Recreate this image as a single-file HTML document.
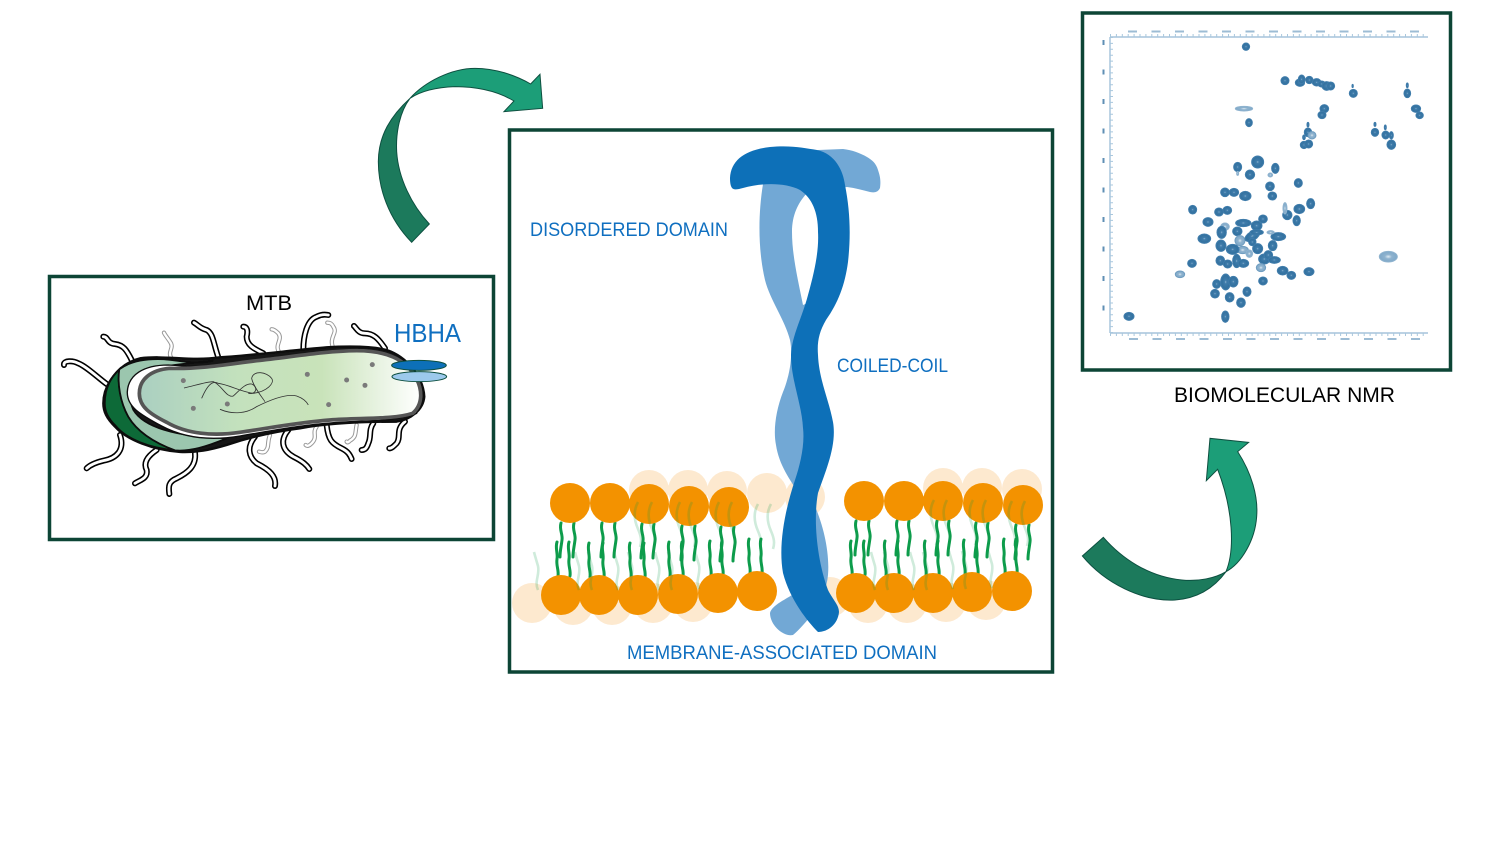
<!DOCTYPE html>
<html><head><meta charset="utf-8"><style>html,body{margin:0;padding:0;background:#fff}svg{display:block}text{font-family:"Liberation Sans",sans-serif}</style></head><body>
<svg width="1500" height="844" viewBox="0 0 1500 844" xmlns="http://www.w3.org/2000/svg">
<defs>
<filter id="soft" filterUnits="userSpaceOnUse" x="0" y="0" width="1500" height="844"><feGaussianBlur stdDeviation=".3"/></filter>
<linearGradient id="cell" x1="0" x2="1" y1="0" y2="0"><stop offset="0" stop-color="#aacfc0"/><stop offset=".35" stop-color="#c3e1bd"/><stop offset=".65" stop-color="#c9e3ba"/><stop offset="1" stop-color="#ffffff"/></linearGradient>
<radialGradient id="pk"><stop offset="0" stop-color="#8fb4d0"/><stop offset=".22" stop-color="#3f7cab"/><stop offset=".8" stop-color="#33719f"/><stop offset="1" stop-color="#3f7cab"/></radialGradient>
<radialGradient id="pl"><stop offset="0" stop-color="#dfeaf2"/><stop offset=".4" stop-color="#8fb3cf"/><stop offset="1" stop-color="#7ea8c8"/></radialGradient>
<path id="a" d="M0,0c-2,7 2,11 1,17c-1,8 -2,11 -2,17" fill="none" stroke="#0f9c4c" stroke-width="3" stroke-linecap="round"/>
<path id="b" d="M0,0c-2,6 1,11 0,17c-1,7 2,11 1,17" fill="none" stroke="#0f9c4c" stroke-width="3" stroke-linecap="round"/>
<path id="c" d="M0,0c-5,9 -4,18 0,27c3,7 4,12 2,18" fill="none" stroke="#0f9c4c" stroke-width="2.6" opacity=".2"/>
<path id="d" d="M0,0c-4,-9 2,-15 0,-24c-2,-7 -3,-10 -4,-14" fill="none" stroke="#0f9c4c" stroke-width="2.6" opacity=".2"/>
</defs>
<rect width="1500" height="844" fill="#fff"/>
<g filter="url(#soft)">

<!-- frames -->
<rect x="49.500" y="276.500" width="444" height="263" fill="#fff" stroke="#0d4536" stroke-width="3.500"/>
<rect x="509.500" y="130" width="543" height="542" fill="#fff" stroke="#0d4536" stroke-width="3.500"/>
<rect x="1082.500" y="13" width="368" height="357" fill="#fff" stroke="#0d4536" stroke-width="3.500"/>

<!-- arrows -->
<g transform="translate(365,55) scale(.3333)" stroke="#0f5040" stroke-width="3" stroke-linejoin="miter">
<path d="M140,562C70,490 40,400 40,320C40,240 80,180 135,130C105,170 92,230 95,290C100,370 140,450 193,507Z" fill="#1a7a5c"/>
<path d="M135,130C180,80 260,40 330,40C390,40 450,60 497,87L525,58L533,160L417,170L447,138C400,110 340,95 270,95C210,97 165,110 135,130Z" fill="#1f9e78"/>
</g>
<g transform="translate(1075,430) scale(.3333)" stroke="#0f5040" stroke-width="3">
<path d="M22,378L85,322C140,385 220,440 320,450C370,455 420,445 453,425C420,470 370,505 300,510C200,515 90,460 22,378Z" fill="#1a7a5c"/>
<path d="M453,425C480,360 475,240 428,118L394,152L405,25L521,37L488,65C530,130 550,200 545,260C540,330 500,400 453,425Z" fill="#1f9e78"/>
</g>

<!-- bacterium -->
<g transform="translate(40,270) scale(.3333)">
<g fill="none" stroke="#999" stroke-width="13" stroke-linecap="round">
<path d="M395,265C380,245 405,235 390,215C380,200 375,195 372,188"/>
<path d="M720,250C700,225 730,210 715,190C705,180 700,178 695,178"/>
<path d="M880,235C865,200 895,190 880,170C875,160 870,158 862,158"/>
<path d="M690,495C680,520 690,530 675,545C665,550 660,545 657,545"/>
<path d="M830,470C815,490 835,500 815,520C805,530 800,528 797,525"/>
<path d="M950,465C945,490 950,500 930,512C925,518 922,518 920,515"/>
</g>
<g fill="none" stroke="#fff" stroke-width="7" stroke-linecap="round">
<path d="M395,265C380,245 405,235 390,215C380,200 375,195 372,188"/>
<path d="M720,250C700,225 730,210 715,190C705,180 700,178 695,178"/>
<path d="M880,235C865,200 895,190 880,170C875,160 870,158 862,158"/>
<path d="M690,495C680,520 690,530 675,545C665,550 660,545 657,545"/>
<path d="M830,470C815,490 835,500 815,520C805,530 800,528 797,525"/>
<path d="M950,465C945,490 950,500 930,512C925,518 922,518 920,515"/>
</g>
<g fill="none" stroke="#000" stroke-width="18" stroke-linecap="round">
<path d="M200,342C170,320 140,290 115,280C100,272 70,270 72,285"/>
<path d="M275,270C260,240 250,225 225,222C200,220 205,200 190,200"/>
<path d="M535,262C520,220 520,190 500,180C480,175 475,165 462,158"/>
<path d="M670,250C640,235 620,225 620,200C625,180 620,170 610,170"/>
<path d="M790,240C790,200 800,150 830,140C850,130 860,135 865,135"/>
<path d="M1035,235C1015,205 1000,190 975,190C955,190 950,175 942,168"/>
<path d="M240,495C255,540 230,565 190,572C165,578 150,585 140,595"/>
<path d="M350,540C320,560 310,580 320,600C325,625 300,630 285,640"/>
<path d="M465,548C470,590 440,610 410,625C385,635 385,650 388,672"/>
<path d="M645,500C620,530 625,560 650,580C690,600 710,620 705,648"/>
<path d="M745,480C720,510 725,540 760,560C790,575 800,585 808,597"/>
<path d="M860,465C865,510 875,520 905,535C925,545 930,555 935,567"/>
<path d="M1000,460C985,480 995,500 985,520C980,535 975,540 965,540"/>
<path d="M1095,455C1065,480 1085,500 1070,520C1060,530 1055,535 1048,535"/>
</g>
<g fill="none" stroke="#fff" stroke-width="8.500" stroke-linecap="round">
<path d="M200,342C170,320 140,290 115,280C100,272 70,270 72,285"/>
<path d="M275,270C260,240 250,225 225,222C200,220 205,200 190,200"/>
<path d="M535,262C520,220 520,190 500,180C480,175 475,165 462,158"/>
<path d="M670,250C640,235 620,225 620,200C625,180 620,170 610,170"/>
<path d="M790,240C790,200 800,150 830,140C850,130 860,135 865,135"/>
<path d="M1035,235C1015,205 1000,190 975,190C955,190 950,175 942,168"/>
<path d="M240,495C255,540 230,565 190,572C165,578 150,585 140,595"/>
<path d="M350,540C320,560 310,580 320,600C325,625 300,630 285,640"/>
<path d="M465,548C470,590 440,610 410,625C385,635 385,650 388,672"/>
<path d="M645,500C620,530 625,560 650,580C690,600 710,620 705,648"/>
<path d="M745,480C720,510 725,540 760,560C790,575 800,585 808,597"/>
<path d="M860,465C865,510 875,520 905,535C925,545 930,555 935,567"/>
<path d="M1000,460C985,480 995,500 985,520C980,535 975,540 965,540"/>
<path d="M1095,455C1065,480 1085,500 1070,520C1060,530 1055,535 1048,535"/>
</g>
<path d="M190,400C190,340 240,280 300,265C380,255 450,275 540,262C650,255 760,240 860,232C930,228 1000,230 1040,240C1100,260 1150,320 1153,380C1150,420 1110,450 1070,455C960,455 860,460 780,475C700,485 620,505 560,525C510,540 470,548 420,546C340,540 260,510 225,470C200,445 190,425 190,400Z" fill="#141414" stroke="#0a0a0a" stroke-width="7"/>
<path d="M194,400C194,350 215,320 238,298C232,340 240,395 265,440C290,482 335,515 405,541C330,535 260,508 227,468C204,445 194,425 194,400Z" fill="#0e6a37" stroke="#0a0a0a" stroke-width="6"/>
<path d="M238,298C265,278 310,265 372,268C420,272 470,285 520,272C400,285 330,290 300,310C270,335 262,380 280,420C310,470 400,500 560,505C500,530 450,545 405,541C335,515 290,482 265,440C240,395 232,340 238,298Z" fill="#9bc6ae" stroke="#0a0a0a" stroke-width="5"/>
<path d="M262,365C265,315 310,285 385,285C440,288 470,292 520,286L1000,246L1135,320L1130,430C1060,458 960,450 870,459C780,466 700,481 600,498C510,513 430,503 365,468C300,433 260,410 262,365Z" fill="#fff" stroke="#0a0a0a" stroke-width="4"/>
<path d="M298,370C298,330 330,300 390,295C480,298 560,283 650,272C750,262 850,243 950,242C1040,242 1095,268 1125,318C1150,360 1148,405 1118,430C1060,449 960,443 870,450C780,457 700,472 600,487C520,499 440,492 380,457C330,432 298,410 298,370Z" fill="url(#cell)" stroke="#555" stroke-width="11"/>
<g fill="none" stroke="#333" stroke-width="2.500">
<path d="M432,354C470,345 500,335 520,335C545,345 560,385 580,378C600,360 615,340 635,342C655,350 650,375 625,370"/>
<path d="M485,385C500,350 515,330 535,340C570,345 600,365 640,370C680,365 705,340 695,325C680,305 640,300 635,325C640,350 665,380 675,395"/>
<path d="M540,418C580,435 620,430 650,410C690,390 740,370 770,378C790,385 800,395 805,405"/>
</g>
<g fill="#7a7a7a"><circle cx="430" cy="332" r="7.500"/><circle cx="460" cy="415" r="7.500"/><circle cx="562" cy="402" r="7.500"/><circle cx="802" cy="313" r="7.500"/><circle cx="866" cy="404" r="7.500"/><circle cx="920" cy="330" r="7.500"/><circle cx="975" cy="346" r="7.500"/><circle cx="997" cy="284" r="7.500"/></g>
<ellipse cx="1137" cy="286" rx="82" ry="15" fill="#0f6fb8" stroke="#0d4f40" stroke-width="3"/>
<ellipse cx="1138" cy="320" rx="82" ry="15" fill="#9cc9ec" stroke="#0d4f40" stroke-width="3"/>
</g>

<!-- membrane back layer -->
<g fill="#fde9cf">
<circle cx="649" cy="490" r="20"/><circle cx="688" cy="490" r="20"/><circle cx="727" cy="491" r="20"/><circle cx="767" cy="493" r="20"/><circle cx="805" cy="497" r="20"/>
<circle cx="943" cy="488" r="20"/><circle cx="982" cy="488" r="20"/><circle cx="1022" cy="489" r="20"/>
<circle cx="532" cy="603" r="20"/><circle cx="573" cy="605" r="20"/><circle cx="612" cy="605" r="20"/><circle cx="653" cy="603" r="20"/><circle cx="693" cy="602" r="20"/>
<circle cx="830" cy="597" r="20"/><circle cx="868" cy="603" r="20"/><circle cx="907" cy="603" r="20"/><circle cx="946" cy="602" r="20"/><circle cx="986" cy="600" r="20"/>
</g>
<!-- tails -->
<use href="#a" x="561" y="523"/><use href="#a" x="574" y="523"/><use href="#a" x="602" y="523"/><use href="#a" x="615" y="523"/><use href="#a" x="642" y="524"/><use href="#a" x="654" y="524"/><use href="#a" x="682" y="526"/><use href="#a" x="695" y="526"/><use href="#a" x="721" y="527"/><use href="#a" x="734" y="527"/>
<use href="#a" x="856" y="521"/><use href="#a" x="869" y="521"/><use href="#a" x="897" y="521"/><use href="#a" x="909" y="521"/><use href="#a" x="937" y="521"/><use href="#a" x="949" y="521"/><use href="#a" x="976" y="523"/><use href="#a" x="988" y="523"/><use href="#a" x="1016" y="525"/><use href="#a" x="1029" y="525"/>
<use href="#b" x="557" y="542"/><use href="#b" x="569" y="542"/><use href="#b" x="589" y="543"/><use href="#b" x="603" y="543"/><use href="#b" x="630" y="543"/><use href="#b" x="644" y="543"/><use href="#b" x="669" y="542"/><use href="#b" x="682" y="542"/><use href="#b" x="710" y="541"/><use href="#b" x="722" y="541"/><use href="#b" x="749" y="539"/><use href="#b" x="761" y="539"/>
<use href="#b" x="851" y="541"/><use href="#b" x="864" y="541"/><use href="#b" x="885" y="541"/><use href="#b" x="898" y="541"/><use href="#b" x="925" y="541"/><use href="#b" x="938" y="541"/><use href="#b" x="964" y="540"/><use href="#b" x="977" y="540"/><use href="#b" x="1004" y="539"/><use href="#b" x="1016" y="539"/>
<!-- front heads -->
<g fill="#f39200">
<circle cx="570" cy="503" r="20"/><circle cx="610" cy="503" r="20"/><circle cx="649" cy="504" r="20"/><circle cx="689" cy="506" r="20"/><circle cx="729" cy="507" r="20"/>
<circle cx="864" cy="501" r="20"/><circle cx="904" cy="501" r="20"/><circle cx="943" cy="501" r="20"/><circle cx="983" cy="503" r="20"/><circle cx="1023" cy="505" r="20"/>
<circle cx="561" cy="595" r="20"/><circle cx="599" cy="595" r="20"/><circle cx="638" cy="595" r="20"/><circle cx="678" cy="594" r="20"/><circle cx="718" cy="593" r="20"/><circle cx="757" cy="591" r="20"/>
<circle cx="856" cy="593" r="20"/><circle cx="894" cy="593" r="20"/><circle cx="933" cy="593" r="20"/><circle cx="972" cy="592" r="20"/><circle cx="1012" cy="591" r="20"/>
</g>
<!-- faded tails -->
<use href="#c" x="638" y="502"/><use href="#c" x="652" y="502"/><use href="#c" x="680" y="502"/><use href="#c" x="692" y="502"/><use href="#c" x="719" y="502"/><use href="#c" x="732" y="502"/><use href="#c" x="758" y="504"/><use href="#c" x="771" y="504"/>
<use href="#c" x="934" y="500"/><use href="#c" x="947" y="500"/><use href="#c" x="973" y="500"/><use href="#c" x="986" y="500"/><use href="#c" x="1012" y="501"/><use href="#c" x="1025" y="501"/>
<use href="#d" x="538" y="590"/><use href="#d" x="579" y="590"/><use href="#d" x="592" y="590"/><use href="#d" x="618" y="590"/><use href="#d" x="632" y="590"/><use href="#d" x="659" y="590"/><use href="#d" x="672" y="590"/><use href="#d" x="699" y="589"/>
<use href="#d" x="875" y="590"/><use href="#d" x="888" y="590"/><use href="#d" x="914" y="590"/><use href="#d" x="927" y="590"/><use href="#d" x="953" y="589"/><use href="#d" x="966" y="589"/><use href="#d" x="992" y="588"/>

<!-- protein -->
<path d="M763,184C758,215 758,250 765,280C770,300 785,320 790,340C793,355 790,375 783,392C776,410 773,430 776,445C779,465 790,480 800,495L812,500C822,520 830,550 828,575C826,600 805,625 793,635C783,637 770,625 770,613C772,605 785,600 800,590L815,300L803,305C798,280 792,255 792,232C792,215 798,203 807,193L847,187C855,188 862,190 870,192C875,193 878,192 880,188C881,180 880,176 878,170C876,163 872,160 867,157C860,153 852,150 843,149L818,150L790,160Z" fill="#72a8d5"/>
<path d="M730,178C731,160 745,150 770,147C790,145 805,148 817,150C835,154 843,170 845,185C850,210 851,235 848,262C845,285 838,303 826,320C819,332 817,342 818,355C819,380 829,400 833,422C837,445 826,470 818,493C813,520 817,560 828,590C833,600 839,605 839,612C838,624 828,632 818,632C808,622 790,600 783,573C778,545 785,510 795,480C800,465 805,445 803,428C802,405 791,380 791,355C792,335 802,318 808,295C815,270 819,250 818,232C818,212 812,198 800,190C785,182 760,183 743,188C735,190 730,192 730,178Z" fill="#116fb8"/>

<!-- NMR axes -->
<g fill="none">
<path d="M1110,37H1428M1110,37V333M1110,333H1428" stroke="#93b8d4" stroke-width="1.200"/>
<path d="M1110,35.500H1428M1110,334.500H1428" stroke="#a9c7dd" stroke-width="3" stroke-dasharray="1 4.900"/>
<path d="M1111.500,37V333" stroke="#a9c7dd" stroke-width="3" stroke-dasharray="1 4.900"/>
<path d="M1128,31.500H1428" stroke="#9dbcd4" stroke-width="2" stroke-dasharray="9 14.500"/>
<path d="M1129,339H1428" stroke="#9dbcd4" stroke-width="2" stroke-dasharray="9 14.500"/>
<path d="M1103.500,40V320" stroke="#5f8fb4" stroke-width="2" stroke-dasharray="5 24.500"/>
</g>
<!-- NMR peaks -->
<g transform="translate(1080,10) scale(.3333)" fill="url(#pk)" stroke="#3f7cab" stroke-width="3">
<ellipse cx="498" cy="110" rx="11" ry="11"/><ellipse cx="615" cy="212" rx="12" ry="12"/><ellipse cx="660" cy="218" rx="14" ry="11"/><ellipse cx="665" cy="208" rx="10" ry="13"/><ellipse cx="688" cy="210" rx="11" ry="11"/><ellipse cx="710" cy="217" rx="13" ry="11"/><ellipse cx="725" cy="222" rx="11" ry="9"/><ellipse cx="740" cy="228" rx="14" ry="13"/><ellipse cx="752" cy="228" rx="12" ry="12"/><ellipse cx="820" cy="250" rx="12" ry="12"/><ellipse cx="982" cy="250" rx="10" ry="13"/><ellipse cx="982" cy="226" rx="3" ry="7"/><ellipse cx="818" cy="228" rx="2" ry="5"/><ellipse cx="1008" cy="296" rx="14" ry="11"/><ellipse cx="1019" cy="316" rx="11" ry="10"/><ellipse cx="733" cy="296" rx="13" ry="12"/><ellipse cx="726" cy="315" rx="12" ry="11"/><ellipse cx="507" cy="338" rx="10" ry="12"/>
<ellipse cx="492" cy="296" rx="26" ry="7" fill="url(#pl)" stroke="#8fb3cf"/><ellipse cx="684" cy="367" rx="11" ry="13"/><ellipse cx="696" cy="376" rx="12" ry="11" fill="url(#pl)" stroke="#6f9dc0"/><ellipse cx="672" cy="405" rx="11" ry="11"/><ellipse cx="686" cy="402" rx="12" ry="12"/><ellipse cx="885" cy="367" rx="11" ry="12"/><ellipse cx="917" cy="375" rx="11" ry="12"/><ellipse cx="934" cy="376" rx="6" ry="11"/><ellipse cx="934" cy="404" rx="13" ry="14"/><ellipse cx="473" cy="471" rx="12" ry="14"/><ellipse cx="533" cy="456" rx="18" ry="18"/><ellipse cx="510" cy="494" rx="14" ry="14"/><ellipse cx="586" cy="475" rx="11" ry="15"/><ellipse cx="571" cy="495" rx="7" ry="6" fill="url(#pl)" stroke="#8fb3cf"/><ellipse cx="570" cy="529" rx="13" ry="13"/><ellipse cx="655" cy="519" rx="12" ry="13"/><ellipse cx="684" cy="344" rx="3" ry="7"/><ellipse cx="885" cy="343" rx="3" ry="6"/><ellipse cx="916" cy="352" rx="3" ry="7"/><ellipse cx="672" cy="382" rx="4" ry="7"/><ellipse cx="473" cy="490" rx="3" ry="6" fill="url(#pl)" stroke="#8fb3cf"/>
</g>
<g transform="translate(1080,180) scale(.3333)" fill="url(#pk)" stroke="#3f7cab" stroke-width="3">
<ellipse cx="435" cy="37" rx="13" ry="13"/><ellipse cx="462" cy="37" rx="14" ry="12"/><ellipse cx="496" cy="48" rx="17" ry="14"/><ellipse cx="577" cy="48" rx="13" ry="12"/><ellipse cx="338" cy="89" rx="12" ry="13"/><ellipse cx="417" cy="96" rx="13" ry="12"/><ellipse cx="442" cy="91" rx="13" ry="12"/><ellipse cx="384" cy="126" rx="15" ry="13"/><ellipse cx="622" cy="105" rx="14" ry="14"/><ellipse cx="615" cy="85" rx="6" ry="17" fill="url(#pl)" stroke="#8fb3cf"/><ellipse cx="658" cy="87" rx="16" ry="14"/><ellipse cx="692" cy="71" rx="12" ry="15"/><ellipse cx="650" cy="122" rx="11" ry="15"/><ellipse cx="549" cy="117" rx="13" ry="12"/><ellipse cx="435" cy="140" rx="13" ry="11" fill="url(#pl)" stroke="#8fb3cf"/><ellipse cx="425" cy="157" rx="14" ry="18"/><ellipse cx="472" cy="154" rx="14" ry="13"/><ellipse cx="490" cy="129" rx="23" ry="11"/><ellipse cx="530" cy="137" rx="16" ry="14"/><ellipse cx="373" cy="176" rx="19" ry="14"/><ellipse cx="423" cy="197" rx="15" ry="17"/><ellipse cx="480" cy="182" rx="15" ry="15" fill="url(#pl)" stroke="#6f9dc0"/><ellipse cx="488" cy="210" rx="17" ry="11" fill="url(#pl)" stroke="#6f9dc0"/><ellipse cx="458" cy="208" rx="19" ry="15"/><ellipse cx="517" cy="168" rx="24" ry="13" transform="rotate(-30 517 168)"/><ellipse cx="530" cy="157" rx="20" ry="8"/><ellipse cx="517" cy="186" rx="11" ry="11"/><ellipse cx="533" cy="206" rx="15" ry="15"/><ellipse cx="578" cy="197" rx="13" ry="15"/><ellipse cx="595" cy="170" rx="22" ry="12"/><ellipse cx="572" cy="157" rx="11" ry="5" fill="url(#pl)" stroke="#8fb3cf"/><ellipse cx="421" cy="242" rx="13" ry="14"/><ellipse cx="443" cy="252" rx="13" ry="12"/><ellipse cx="470" cy="243" rx="12" ry="20"/><ellipse cx="490" cy="250" rx="16" ry="12"/><ellipse cx="508" cy="221" rx="10" ry="11" fill="url(#pl)" stroke="#8fb3cf"/><ellipse cx="553" cy="237" rx="17" ry="15"/><ellipse cx="565" cy="225" rx="13" ry="13"/><ellipse cx="583" cy="240" rx="18" ry="10"/><ellipse cx="543" cy="263" rx="14" ry="12" fill="url(#pl)" stroke="#6f9dc0"/><ellipse cx="608" cy="272" rx="16" ry="13"/><ellipse cx="634" cy="286" rx="13" ry="12"/><ellipse cx="687" cy="275" rx="15" ry="12"/><ellipse cx="336" cy="250" rx="13" ry="12"/><ellipse cx="300" cy="283" rx="14" ry="10" fill="url(#pl)" stroke="#6f9dc0"/><ellipse cx="410" cy="312" rx="12" ry="13"/><ellipse cx="437" cy="306" rx="15" ry="24"/><ellipse cx="460" cy="305" rx="14" ry="16"/><ellipse cx="549" cy="303" rx="13" ry="12"/><ellipse cx="501" cy="335" rx="12" ry="14"/><ellipse cx="405" cy="341" rx="13" ry="13"/><ellipse cx="449" cy="352" rx="13" ry="14"/><ellipse cx="483" cy="368" rx="13" ry="14"/><ellipse cx="436" cy="410" rx="11" ry="17"/><ellipse cx="147" cy="409" rx="15" ry="12"/><ellipse cx="925" cy="230" rx="27" ry="16" fill="url(#pl)" stroke="#8fb3cf"/>
</g>
</g>

<text x="246" y="310" font-size="21" fill="#000" textLength="46" lengthAdjust="spacingAndGlyphs">MTB</text>
<text x="394" y="342" font-size="26" fill="#0f6fc0" textLength="67" lengthAdjust="spacingAndGlyphs">HBHA</text>
<text x="530" y="236" font-size="19.500" fill="#0f6fc0" textLength="198" lengthAdjust="spacingAndGlyphs">DISORDERED DOMAIN</text>
<text x="837" y="372" font-size="19.500" fill="#0f6fc0" textLength="111" lengthAdjust="spacingAndGlyphs">COILED-COIL</text>
<text x="627" y="659" font-size="19.500" fill="#0f6fc0" textLength="310" lengthAdjust="spacingAndGlyphs">MEMBRANE-ASSOCIATED DOMAIN</text>
<text x="1174" y="402" font-size="21" fill="#000" textLength="221" lengthAdjust="spacingAndGlyphs">BIOMOLECULAR NMR</text>
</svg>
</body></html>
